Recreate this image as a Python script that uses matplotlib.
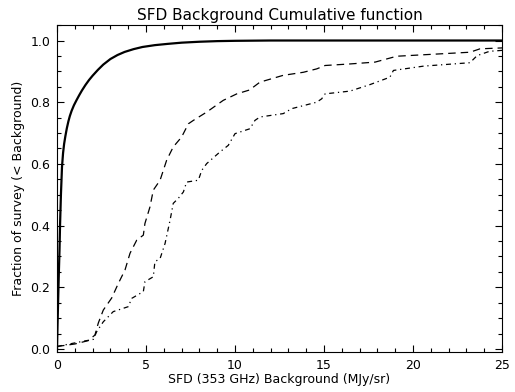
import numpy as np
import matplotlib.pyplot as plt
from matplotlib.ticker import MultipleLocator

plt.rcParams['font.family'] = 'DejaVu Sans'

# survey cumulative (solid)
x_all = [0.0, 0.03, 0.06, 0.1, 0.14, 0.17, 0.22, 0.28, 0.34, 0.4, 0.47, 0.55,
         0.64, 0.72, 0.82, 0.95, 1.1, 1.25, 1.4, 1.6, 1.8, 2.0, 2.3, 2.6, 3.0,
         3.4, 3.8, 4.3, 4.8, 5.5, 6.2, 7.0, 8.0, 9.0, 10.0, 12.0, 25.0]
y_all = [0.0, 0.08, 0.15, 0.24, 0.32, 0.4, 0.5, 0.59, 0.635, 0.665, 0.69,
         0.715, 0.738, 0.755, 0.772, 0.79, 0.807, 0.823, 0.838, 0.856, 0.872,
         0.886, 0.905, 0.922, 0.94, 0.953, 0.963, 0.972, 0.979, 0.985, 0.989,
         0.993, 0.996, 0.998, 0.999, 1.0, 1.0]

# dashed sample
x_dash = [0.0, 1.0, 1.76, 2.13, 2.32, 2.6, 3.07, 3.45, 3.82, 4.1, 4.48, 4.85,
          4.94, 5.22, 5.41, 5.79, 6.16, 6.53, 7.0, 7.38, 7.66, 8.41, 9.34,
          10.1, 10.84, 11.03, 11.4, 12.7, 13.84, 14.59, 15.06, 16.46, 17.87,
          18.7, 19.08, 23.2, 23.76, 25.0]
y_dash = [0.008, 0.016, 0.027, 0.045, 0.084, 0.126, 0.165, 0.213, 0.256, 0.31,
          0.353, 0.369, 0.407, 0.46, 0.515, 0.547, 0.612, 0.655, 0.687, 0.73,
          0.741, 0.768, 0.806, 0.827, 0.84, 0.849, 0.865, 0.887, 0.897, 0.908,
          0.919, 0.924, 0.93, 0.943, 0.949, 0.962, 0.973, 0.976]

# dash-dot sample
x_dd = [0.0, 1.39, 2.04, 2.23, 2.6, 3.16, 4.0, 4.2, 4.85, 4.94, 5.41, 5.5,
        5.79, 6.07, 6.35, 6.53, 6.81, 7.1, 7.28, 7.94, 8.13, 8.41, 9.16, 9.62,
        10.0, 10.84, 11.12, 11.4, 12.71, 13.18, 14.59, 14.87, 15.06, 16.46,
        17.58, 18.7, 18.9, 20.6, 23.2, 23.6, 24.3, 25.0]
y_dd = [0.008, 0.024, 0.031, 0.056, 0.088, 0.121, 0.137, 0.164, 0.186, 0.218,
        0.234, 0.283, 0.293, 0.342, 0.417, 0.472, 0.488, 0.509, 0.541, 0.547,
        0.579, 0.601, 0.639, 0.66, 0.698, 0.714, 0.741, 0.752, 0.763, 0.779,
        0.8, 0.811, 0.827, 0.836, 0.857, 0.881, 0.903, 0.917, 0.928, 0.951,
        0.965, 0.968]

fig = plt.figure(figsize=(5.15, 3.92), dpi=100)
ax = fig.add_axes([0.1107, 0.102, 0.8641, 0.834])

ax.plot(x_all, y_all, 'k-', lw=1.6)
ax.plot(x_dash, y_dash, color='k', lw=0.9, linestyle=(0, (6, 4)))
ax.plot(x_dd, y_dd, color='k', lw=0.9, linestyle=(0, (4, 3, 1, 3)))

ax.set_xlim(0, 25)
ax.set_ylim(-0.01, 1.05)
ax.xaxis.set_major_locator(MultipleLocator(5))
ax.xaxis.set_minor_locator(MultipleLocator(1))
ax.yaxis.set_major_locator(MultipleLocator(0.2))
ax.yaxis.set_minor_locator(MultipleLocator(0.05))
ax.set_yticks([0.0, 0.2, 0.4, 0.6, 0.8, 1.0])
ax.set_yticklabels(['0.0', '0.2', '0.4', '0.6', '0.8', '1.0'])
ax.tick_params(which='both', direction='in', top=True, right=True,
               labelsize=9, width=0.8, pad=5)
ax.tick_params(which='major', length=5)
ax.tick_params(which='minor', length=3)
for s in ax.spines.values():
    s.set_linewidth(0.8)

ax.set_title('SFD Background Cumulative function', fontsize=11, pad=4)
ax.set_xlabel('SFD (353 GHz) Background (MJy/sr)', fontsize=9, labelpad=1)
ax.set_ylabel('Fraction of survey (< Background)', fontsize=9, labelpad=4)

fig.savefig('out.png', dpi=100)
